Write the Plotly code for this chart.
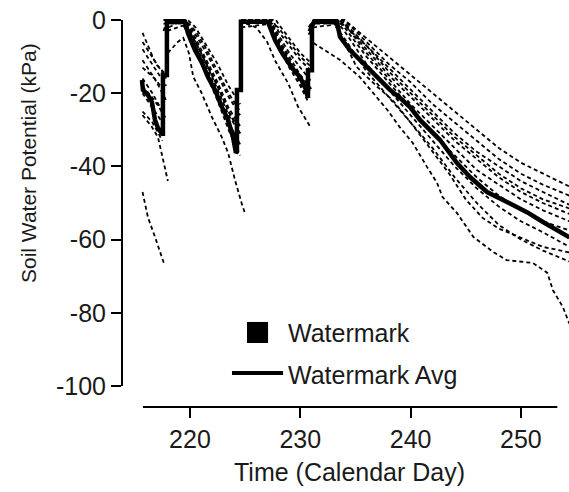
import plotly.graph_objects as go

# ---------------- data ----------------
N = None
s1_day = [215.7, 216.3, 216.9, 217.85, N, 217.95, 219.8, 220.5, 221.5, 222.5, 223.5, 224.55, N, 224.65, 227.8, 228.0, 229.0, 230.0, 231.05, N, 231.15, 234.0, 236, 238, 240, 242, 244, 246, 248, 250, 252, 254.4]
s1_kpa = [-3.5, -8, -12, -15, N, 0, 0, -2, -7, -12, -18, -23, N, 0, 0, -1, -5, -9, -12, N, 0, 0, -5, -10, -15, -20, -25, -30, -35, -39, -42, -45.5]

s2_day = [215.7, 216.8, 217.85, N, 217.95, 219.6, 220.5, 221.5, 222.5, 223.5, 224.55, N, 224.65, 227.5, 228.0, 229.0, 230.0, 231.05, N, 231.15, 234.0, 236, 238, 240, 242, 244, 246, 248, 250, 252, 254.4]
s2_kpa = [-8, -13, -18, N, 0, 0, -4, -9, -15, -21, -26, N, 0, 0, -3, -7, -11, -14, N, 0, 0, -6, -12, -17, -23, -28, -33, -38, -42, -45, -48]

s3_day = [215.7, 216.8, 217.85, N, 217.95, 219.5, 220.5, 221.5, 222.5, 223.5, 224.55, N, 224.65, 227.3, 228.0, 229.0, 230.0, 231.05, N, 231.15, 233.8, 236, 238, 240, 242, 244, 246, 248, 250, 252, 254.4]
s3_kpa = [-11, -16, -22, N, 0, 0, -5, -11, -17, -24, -29, N, 0, 0, -4, -9, -13, -17, N, 0, 0, -7, -13, -19, -25, -31, -36, -40, -44, -47, -50.5]

s4_day = [215.7, 216.6, 217.5, N, 217.6, 217.95, 219.4, 220.5, 221.5, 222.5, 223.5, 224.55, N, 224.65, 227.2, 228.0, 229.0, 230.0, 231.05, N, 231.15, 233.6, 234.0, 236, 238, 240, 242, 244, 246, 248, 250, 252, 254.4]
s4_kpa = [-16, -20, -25, N, -3, 0, 0, -6, -12, -19, -26, -31, N, 0, 0, -5, -10, -15, -19, N, 0, 0, -1, -8, -15, -21, -27, -33, -38, -43, -47, -50, -53]

s5_day = [215.7, 216.6, 217.5, N, 217.6, 219.3, 220.5, 221.5, 222.5, 223.5, 224.55, N, 224.65, 227.0, 228.0, 229.0, 230.0, 230.65, N, 230.75, 231.2, 233.4, 234.0, 236, 238, 240, 242, 244, 246, 248, 250, 252, 254.4]
s5_kpa = [-25, -28, -33, N, 0, 0, -7, -13, -20, -28, -34, N, 0, 0, -7, -12, -17, -21, N, -2, 0, 0, -1, -9, -16, -23, -29, -35, -41, -45, -49, -52, -55]

s6_day = [215.7, 216.8, 217.85, N, 217.95, 219.2, 220.5, 221.5, 222.5, 223.5, 224.55, N, 224.65, 227.0, 228.0, 229.0, 230.0, 231.05, N, 231.15, 233.3, 234.0, 236, 238, 240, 242, 244, 246, 248, 250, 252, 254.4]
s6_kpa = [-13, -16, -20, N, 0, 0, -8, -15, -22, -30, -37, N, 0, 0, -6, -11, -16, -20, N, 0, 0, -2, -10, -17, -24, -31, -37, -43, -48, -52, -55, -57.5]

s7_day = [215.7, 216.8, 217.85, N, 217.95, 219.5, 220.5, 221.5, 222.5, 223.5, 224.55, N, 224.65, 227.2, 228.0, 229.0, 230.0, 230.65, N, 230.75, 231.2, 233.2, 234.0, 236, 238, 240, 242, 244, 246, 248, 250, 252, 254.4]
s7_kpa = [-18, -22, -27, N, 0, 0, -6, -12, -18, -25, -31, N, 0, 0, -5, -11, -16, -20, N, -3, 0, 0, -3, -12, -19, -26, -33, -40, -46, -51, -55, -58, -62]

s8_day = [215.7, 216.8, 217.85, N, 217.95, 219.9, 220.5, 221.5, 222.5, 223.5, 224.55, N, 224.65, 227.5, 228.0, 229.0, 230.0, 231.05, N, 231.15, 233.8, 236, 238, 240, 242, 244, 246, 248, 250, 252, 254.4]
s8_kpa = [-6, -11, -16, N, -3, -1, -3, -8, -14, -20, -25, N, -2, -1, -2, -6, -10, -13, N, -2, -1, -7, -14, -20, -26, -32, -37, -42, -46, -49, -51.5]

s9_day = [215.7, 216.6, 217.5, N, 217.6, 219.3, 220.5, 221.5, 222.5, 223.5, 224.55, N, 224.65, 227.0, 228.0, 229.0, 230.0, 230.65, N, 230.75, 231.3, 233.0, 234.0, 236, 238, 240, 242, 244, 246, 248, 250, 252, 254.4]
s9_kpa = [-20, -24, -28, N, -1, -1, -7, -14, -21, -28, -34, N, 0, 0, -7, -13, -18, -22, N, -4, -1, -1, -5, -14, -21, -28, -35, -43, -50, -56, -60, -63, -66]

s10_day = [215.7, 216.5, 217.1, 217.7, 218.0, N, 218.1, 219.4, 220.5, 221.5, 222.5, 223.5, 224.55, N, 224.65, 227.0, 228.0, 229.0, 230.0, 230.65, N, 230.75, 231.3, 233.0, 233.5, 235.1, 237.0, 238.4, 240, 242, 243.5, 245, 246.5, 248, 250, 252, 254.4]
s10_kpa = [-26, -29, -32, -40, -44, N, -2, 0, -6, -12, -18, -25, -30, N, 0, 0, -6, -12, -17, -21, N, -3, 0, 0, -3, -12.8, -18.3, -22, -28, -36, -42, -49, -54, -57, -59.5, -62, -63.5]

s11_day = [215.7, 216.2, 216.8, 217.4, 217.7, N, 218.0, 218.5, 218.9, 219.4, 219.9, 220.3, 221.06, 221.97, 222.87, 223.47, 224.08, 224.69, 224.99, N, 225.1, 226.0, 227.0, 227.7, 228.9, 229.8, 231.0, N, 231.2, 231.8, 233.6, 235.4, 236.6, 237.9, 239.0, 240.2, 241.5, 242.4, 242.9, 244.2, 245.7, 247.5, 248.7, 251.1, 252.4, 252.9, 253.8, 254.4]
s11_kpa = [-47, -54, -59, -64, -67, N, -9, -7.4, -6, -4.9, -9, -15.5, -20, -26.4, -31.9, -36.4, -43.7, -50.1, -52.8, N, -1, -2, -6, -11, -17.3, -23.7, -29.6, N, -6.3, -7.4, -10.9, -15.6, -19.9, -24.6, -29.2, -33.6, -40.2, -44.5, -48.4, -52.7, -59.3, -63.4, -65.6, -66.4, -69.1, -73.8, -78.4, -83]

avg_day = [215.65, 215.74, 216.19, 216.55, 216.83, 217.10, 217.46, 217.55, 217.55, 217.91, 217.91, 218.2, 219.55, 219.82, 220.45, 221.09, 221.63, 222.27, 222.90, 223.45, 223.90, 224.17, 224.26, 224.26, 224.62, 224.62, 227.07, 227.71, 228.34, 229.25, 229.97, 230.43, 230.70, 230.70, 231.06, 231.06, 231.33, 233.33, 233.6, 234.5, 235.68, 236.95, 238.13, 239.04, 239.95, 240.85, 242.03, 242.67, 244.21, 245.39, 246.93, 248.74, 250.55, 252.00, 253.54, 254.4]
avg_kpa = [-16.4, -19.1, -20.5, -22.4, -27.3, -29.5, -31.1, -31.1, -15.0, -15.0, -0.8, -0.5, -0.5, -3.6, -8.2, -11.7, -15.6, -19.1, -23.8, -27.3, -32.0, -36.3, -36.0, -19.1, -19.1, -0.5, -0.5, -5.5, -9.0, -13.1, -15.6, -18.3, -21.3, -13.7, -13.7, -1.4, -0.5, -0.5, -4.6, -8.2, -11.7, -15.6, -19.1, -21.3, -23.8, -27.3, -30.9, -32.8, -39.1, -42.9, -47.0, -49.7, -52.5, -55.2, -57.9, -59.4]

x_ticks = [220, 230, 240, 250]
y_ticks = [-100, -80, -60, -40, -20, 0]
y_tick_labels = ["-100", "-80", "-60", "-40", "-20", "0"]
x_title = "Time (Calendar Day)"
y_title = "Soil Water Potential (kPa)"
legend_labels = ["Watermark", "Watermark Avg"]

sensors = [(s1_day, s1_kpa), (s2_day, s2_kpa), (s3_day, s3_kpa), (s4_day, s4_kpa),
           (s5_day, s5_kpa), (s6_day, s6_kpa), (s7_day, s7_kpa), (s8_day, s8_kpa),
           (s9_day, s9_kpa), (s10_day, s10_kpa), (s11_day, s11_kpa)]

# ---------------- figure ----------------
FONT = "Liberation Sans, Arial, sans-serif"
TXT = "#1a1a1a"
fig = go.Figure()
for d, k in sensors:
    fig.add_trace(go.Scatter(x=d, y=k, mode="lines", connectgaps=False,
                             line=dict(color="black", width=1.8, dash="4px,3px"),
                             showlegend=False, hoverinfo="skip"))
fig.add_trace(go.Scatter(x=avg_day, y=avg_kpa, mode="lines",
                         line=dict(color="black", width=4.5), showlegend=False))

XMIN, XMAX = 213.84, 254.36
YMIN, YMAX = -105.74, 2.73

fig.update_layout(
    width=569, height=492,
    margin=dict(l=122, r=0, t=10, b=85, pad=0),
    paper_bgcolor="white", plot_bgcolor="white",
    font=dict(family=FONT, size=25, color=TXT),
    showlegend=False,
    xaxis=dict(range=[XMIN, XMAX], tickvals=x_ticks, ticks="outside", ticklen=10,
               tickwidth=2, tickcolor="black", showline=False, showgrid=False,
               zeroline=False, tickfont=dict(size=25, family=FONT, color=TXT)),
    yaxis=dict(range=[YMIN, YMAX], tickvals=y_ticks, ticktext=y_tick_labels,
               ticks="outside", ticklen=10,
               tickwidth=2, tickcolor="black", showline=False, showgrid=False,
               zeroline=False, tickfont=dict(size=25, family=FONT, color=TXT)),
    shapes=[
        dict(type="line", xref="paper", x0=0, x1=0, yref="y", y0=-100, y1=0,
             line=dict(color="black", width=2)),
        dict(type="line", xref="x", x0=215.74, x1=253.3, yref="paper", y0=0, y1=0,
             line=dict(color="black", width=2)),
        dict(type="rect", xref="x", x0=225.17, x1=227.08, yref="y", y0=-88.25, y1=-82.5,
             line=dict(width=0), fillcolor="black"),
        dict(type="line", xref="x", x0=223.81, x1=228.44, yref="y", y0=-96.45, y1=-96.45,
             line=dict(color="black", width=4)),
    ],
    annotations=[
        dict(text=legend_labels[0], xref="x", yref="y", x=228.75, y=-85.5,
             xanchor="left", yanchor="middle", showarrow=False,
             font=dict(size=25, family=FONT, color=TXT)),
        dict(text=legend_labels[1], xref="x", yref="y", x=228.75, y=-97.0,
             xanchor="left", yanchor="middle", showarrow=False,
             font=dict(size=25, family=FONT, color=TXT)),
        dict(text=x_title, xref="paper", yref="paper", x=0.51, y=0, yshift=-65,
             xanchor="center", yanchor="middle", showarrow=False,
             font=dict(size=25, family=FONT, color=TXT)),
        dict(text=y_title, xref="paper", yref="paper", x=0, xshift=-94, y=0.6146,
             xanchor="center", yanchor="middle", textangle=-90, showarrow=False,
             font=dict(size=21, family=FONT, color=TXT)),
    ],
)

fig.write_html("out.html", config={"displayModeBar": False},
               post_script="document.body.style.margin='0';document.body.style.overflow='hidden';")
